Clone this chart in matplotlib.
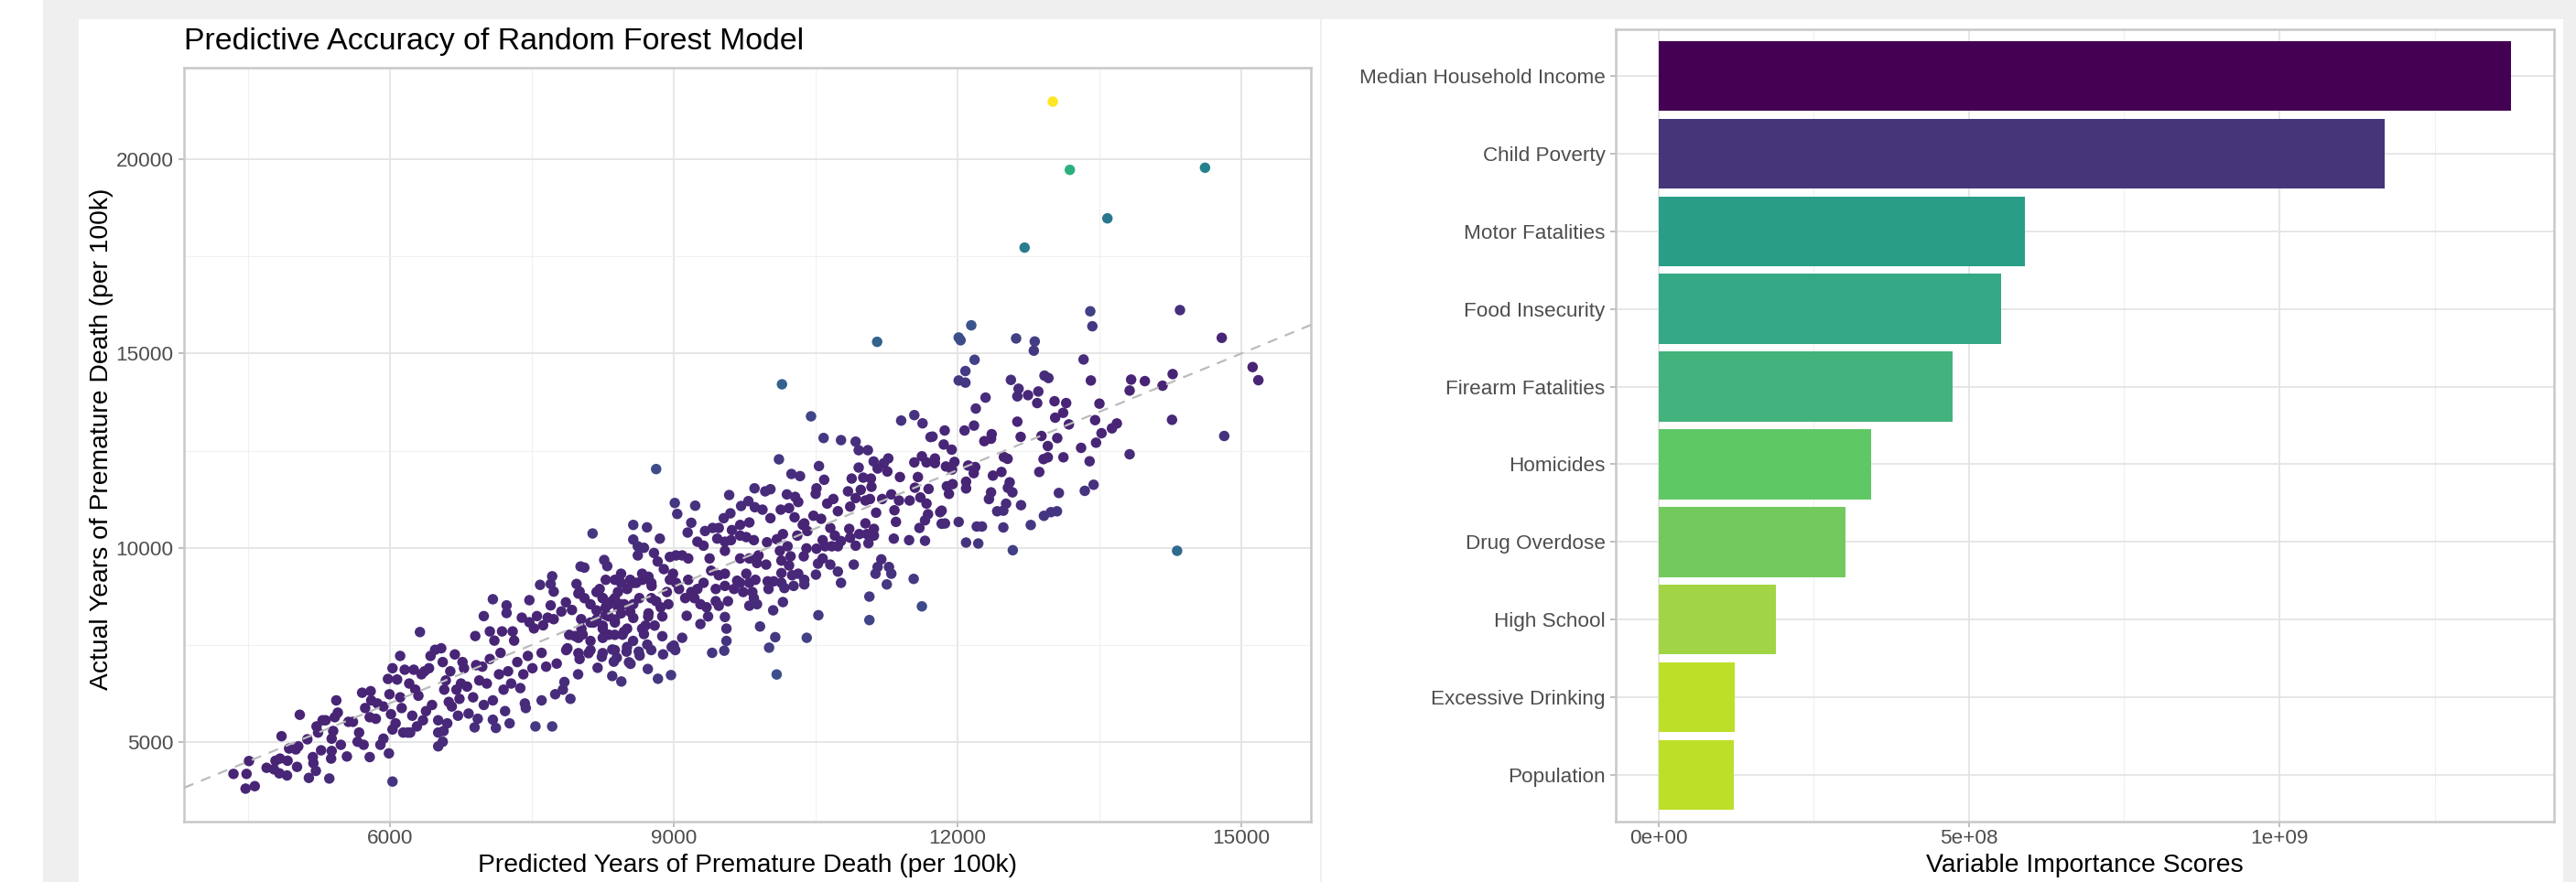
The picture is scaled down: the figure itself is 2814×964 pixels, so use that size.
import numpy as np
import matplotlib
matplotlib.use("Agg")
import matplotlib.pyplot as plt
from matplotlib.colors import ListedColormap, PowerNorm
from matplotlib.patches import Rectangle
from matplotlib.lines import Line2D
from matplotlib.ticker import MultipleLocator, FixedLocator

plt.rcParams['font.family'] = ['Liberation Sans', 'DejaVu Sans']

# ---------------- data ----------------
predicted = [
    4346, 4484, 4510, 4474, 4571, 4696, 4774, 4790, 4838, 4918,
    4831, 4912, 4854, 4934, 5005, 5031, 5018, 5047, 5127, 5143,
    5185, 5191, 5217, 5224, 5240, 5288, 5320, 5272, 5359, 5378,
    5384, 5384, 5400, 5417, 5433, 5449, 5481, 5545, 5561, 5609,
    5658, 5674, 5706, 5722, 5738, 5786, 5796, 5802, 5786, 5851,
    5867, 5899, 5931, 5931, 5989, 5995, 5979, 6027, 6027, 6011,
    6027, 6060, 6076, 6108, 6108, 6124, 6140, 6156, 6188, 6204,
    6214, 6236, 6252, 6268, 6285, 6301, 6317, 6333, 6349, 6365,
    6381, 6413, 6429, 6445, 6477, 6510, 6510, 6510, 6542, 6558,
    6558, 6567, 6574, 6590, 6606, 6622, 6638, 6654, 6686, 6703,
    6719, 6735, 6751, 6767, 6783, 6815, 6831, 6879, 6895, 6902,
    6911, 6928, 6944, 6976, 6992, 6992, 7024, 7056, 7056, 7088,
    7088, 7104, 7120, 7088, 7153, 7169, 7185, 7201, 7217, 7233,
    7233, 7249, 7265, 7281, 7297, 7313, 7346, 7378, 7394, 7410,
    7426, 7436, 7458, 7474, 7474, 7506, 7522, 7538, 7554, 7587,
    7603, 7603, 7619, 7651, 7667, 7699, 7699, 7715, 7715, 7731,
    7731, 7747, 7763, 7812, 7828, 7844, 7860, 7876, 7908, 7924,
    7956, 7972, 7989, 8005, 8005, 8015, 8021, 8037,
    10144, 10451, 8814, 8142, 10584, 10768, 10923, 10955, 11052, 10112,
    10535, 11113, 11268, 11220, 11155, 11258, 11404, 11543, 11630, 11714,
    11623, 11543, 11672, 10244, 10335, 10881, 11003, 11084, 10955, 11391,
    11581, 10590, 10509, 10500, 9854, 9967, 10022, 10842, 10977, 11090,
    11549, 11694, 9586, 9011, 9227, 9037, 9712, 9789, 9857, 9938,
    10022, 10196, 10283, 10316, 10131, 10219, 10277, 10380, 10477, 10622,
    10687, 10735, 10865, 10923, 11026, 11074, 11139, 11203, 11300, 11381,
    11333, 11494, 11607, 11672, 11688, 11349, 11656, 11026, 11116, 10855,
    10655, 10558, 9599, 9528, 9185, 8572, 8717, 9147, 9331, 9411,
    9476, 9615, 9702, 9799, 8572, 8853, 8620, 8685, 9250, 9315,
    9460, 9541, 9605, 9702, 9767, 9847, 9986, 10090, 10154, 10203,
    10122, 10306, 10364, 10412, 10574, 10703, 10768, 10865, 10923, 10961,
    11042, 11058, 11116, 11326, 11488, 11597, 11656, 10509, 10600, 10671,
    10735, 10403, 8620, 8791, 8959, 9024, 9089, 9153, 9379, 9541,
    9702, 9799, 9896, 9880, 9977, 10235, 10219, 10138, 10374, 10525,
    10574, 10655, 10903, 11194, 11155, 11275, 11300, 11133, 11536, 11252,
    11623, 11068, 11068, 10529, 10735, 10768, 10503, 10316, 10380, 10251,
    10138, 10138, 10057, 9993, 10170, 10267, 10380, 9863, 9799, 9767,
    9670, 9541, 9476, 9395, 9315, 9250, 9185, 9153, 9024, 9056,
    9121, 9218, 9282, 9347, 9444, 9444, 9541, 9573, 9476, 9637,
    9702, 9734, 9831, 9847, 9799, 9880, 10002, 10154, 10051, 9541,
    9557, 9282, 9363, 9137, 9912, 10073, 10406, 9089, 8992, 8959,
    8895, 8830, 8927, 8943, 8862, 8814, 8879, 8798, 8879, 8701,
    8685, 8733, 8766, 8733, 8669, 8604, 8540, 8507, 8443, 8443,
    8378, 8410, 8346, 8281, 8265, 8297, 8217, 8249, 8281, 8314,
    8378, 8459, 8184, 8120, 8572, 8636, 8572, 8540, 8475, 8410,
    8443, 8507, 8314, 8249, 8055,
    13187, 14616, 13584, 12709, 12145, 12012, 12032, 12619, 12816, 12806,
    13403, 13425, 14351, 14793, 12180, 13332, 15119, 15180, 12083, 12012,
    12083, 12564, 12919, 12961, 13409, 13835, 13980, 14167, 14274, 13819,
    12645, 12632, 12745, 12854, 12842, 12296, 12193, 13025, 13148, 13500,
    13116, 13032, 13177, 13454, 13684, 13632, 13522, 14267, 14819, 12632,
    12174, 12074, 11864, 11854, 11938, 11735, 12361, 12354, 12283, 12667,
    12887, 13054, 12954, 13306, 13464, 13819, 13119, 12954, 12909, 13396,
    12490, 12529, 11761, 11761, 11877, 11967, 11941, 12112, 12187, 12171,
    12464, 12374, 12864, 11887, 11948, 11909, 12090, 12090, 12551, 12532,
    12580, 12354, 12332, 12513, 12671, 13071, 13345, 13438, 12419, 12484,
    11832, 11816, 11832, 11867, 12012, 12203, 12258, 12484, 12774, 12913,
    12987, 13051,
    13007, 14321, 12090, 12219, 12584, 11150,
    9557, 9406, 9534, 10008, 10088, 8971, 8833, 8726, 8446, 8350,
    8195, 8527, 8543, 8398, 8366, 8630, 8640, 8501, 8240, 8099,
    8350, 8762, 8887, 9016, 8978, 9000, 8720,
    7992, 8056, 8120, 8184, 8249, 8313, 8377, 8441, 8184, 8281,
    8377, 8152, 8249, 8024, 7895, 7992, 8120, 8249, 8377, 8473,
    7863, 7992, 8120, 8249, 8377, 8506, 8570, 8666, 8730, 8763,
    8570, 8666, 8763,
]

actual = [
    4180, 4180, 4511, 3801, 3864, 4337, 4298, 4519, 4574, 4519,
    4195, 4140, 5150, 4834, 4810, 4889, 4361, 5702, 5071, 4077,
    4613, 4456, 4258, 5402, 5244, 5560, 5560, 4787, 4061, 4574,
    4771, 5087, 5284, 5639, 6072, 5757, 4929, 4629, 5520, 5520,
    5008, 5244, 6269, 4929, 5875, 4613, 6309, 6072, 5639, 5599,
    5993, 4929, 5087, 5915, 4708, 6230, 6624, 6900, 3983, 5717,
    5323, 5481, 6609, 7216, 6151, 5875, 5244, 6861, 5244, 6506,
    5244, 5678, 6861, 6348, 5402, 6191, 7831, 6743, 5560, 6821,
    5796, 6900, 7216, 5954, 7374, 5560, 5244, 4889, 7413, 5008,
    7058, 5284, 6348, 6585, 5481, 6032, 6821, 5915, 7255, 6348,
    5678, 6112, 6506, 7058, 6900, 6427, 5733, 6151, 5378, 7728,
    6979, 5599, 6585, 6940, 5954, 8241, 6506, 7137, 7847, 8675,
    6072, 7610, 5363, 5575, 6743, 7295, 7847, 6348, 5796, 8320,
    8517, 6821, 5481, 6506, 7847, 7610, 7058, 6388, 8201, 6743,
    5993, 5875, 7216, 8651, 8083, 6900, 7925, 5402, 8241, 9045,
    7295, 6072, 8004, 6940, 8201, 8517, 9069, 5402, 9266, 8872,
    8162, 6230, 7019, 8359, 6348, 6545, 8596, 7413, 6112, 8399,
    7728, 9069, 6743, 8872, 7137, 9518, 8162, 7768,
    14207, 13383, 12025, 10368, 12825, 12770, 12731, 12511, 12511, 12276,
    12103, 12221, 12299, 12174, 12040, 11962, 13273, 13414, 13202, 12849,
    12354, 12197, 12197, 11899, 11844, 11781, 11805, 11781, 12064, 11820,
    11820, 11750, 11530, 11389, 11530, 11452, 11507, 11452, 11491, 11569,
    11546, 11514, 11357, 11153, 11083, 10871, 11075, 11200, 11043, 10981,
    10761, 11373, 11310, 11177, 10981, 11020, 10784, 10627, 10824, 11137,
    11255, 10941, 11059, 11279, 11216, 11255, 10902, 11255, 11373, 11216,
    10965, 11216, 11295, 11137, 10863, 10666, 10706, 10627, 10486, 10486,
    10510, 10745, 10886, 10761, 10643, 10588, 10525, 10392, 10431, 10510,
    10510, 10455, 10588, 10651, 10211, 10235, 10038, 9999, 10156, 10054,
    10235, 10156, 10196, 10313, 10274, 10196, 10141, 10219, 10352, 10038,
    9921, 10313, 10588, 10431, 10196, 10313, 10172, 10258, 10054, 10352,
    10352, 10117, 10313, 10235, 10196, 10510, 10180, 9976, 10038, 10038,
    10038, 9984, 9803, 9866, 9764, 9803, 9803, 9725, 9725, 9921,
    9725, 9725, 9803, 9607, 9567, 9780, 9544, 9670, 9780, 9591,
    9725, 9567, 9567, 9701, 9505, 9505, 9332, 9332, 9199, 9057,
    8492, 8743, 8139, 8264, 9387, 9097, 9309, 9332, 9175, 9293,
    9348, 9097, 9136, 9136, 8963, 9018, 9057, 9175, 9097, 9332,
    9152, 9332, 9293, 9410, 9097, 8939, 8861, 9175, 9097, 8939,
    8704, 8704, 8547, 8469, 8939, 8625, 9018, 8625, 8508, 8939,
    9097, 8861, 8861, 8704, 8508, 8547, 8939, 8602, 8390, 8218,
    7919, 8037, 8233, 8249, 7974, 7699, 7683, 7683, 9332, 9175,
    9450, 9646, 8861, 8547, 8469, 8625, 8233, 7997, 7723, 7997,
    7778, 8312, 9018, 9254, 9175, 9097, 9175, 8939, 9332, 9097,
    9175, 8861, 8625, 9175, 9685, 9528, 8939, 8704, 8469, 8233,
    8076, 7762, 8155, 8076, 8194, 8704, 8547, 8351, 8547, 8469,
    8312, 7919, 7762, 7919, 9489,
    19726, 19781, 18478, 17725, 15725, 15411, 15340, 15387, 15309, 15073,
    16086, 15701, 16117, 15403, 14838, 14846, 14650, 14313, 14548, 14305,
    14250, 14320, 14430, 14368, 14305, 14328, 14289, 14171, 14470, 14046,
    14093, 13897, 13928, 14022, 13724, 13865, 13583, 13771, 13724, 13709,
    13473, 13348, 13175, 13285, 13199, 13073, 12948, 13293, 12877, 13245,
    13144, 13018, 13018, 12657, 12524, 12861, 12924, 12806, 12744, 12854,
    12877, 12822, 12618, 12571, 12704, 12406, 12328, 12328, 12281, 12226,
    12336, 12289, 12297, 12179, 12092, 12210, 12014, 12116, 12077, 11920,
    11951, 11857, 11951, 11583, 11638, 11387, 11700, 11527, 11685, 11543,
    11426, 11426, 11253, 11135, 11096, 11410, 11465, 11622, 10939, 10955,
    10955, 10916, 10618, 10626, 10665, 10547, 10547, 10523, 10586, 10822,
    10916, 10939,
    21483, 9922, 10134, 10110, 9937, 15300,
    7602, 7296, 7351, 7429, 6739, 6723, 6629, 6880, 6558, 6699,
    6911, 7053, 7013, 7170, 7068, 7327, 7225, 7327, 7194, 7288,
    7382, 7367, 7257, 7367, 7445, 7484, 7508,
    8821, 8703, 8545, 8860, 8703, 8545, 8703, 8545, 8388, 8270,
    8152, 8074, 7995, 7917, 7759, 7681, 7602, 7681, 7759, 7838,
    7366, 7288, 7366, 7288, 7366, 7445, 7602, 7917, 8231, 8703,
    9096, 9332, 9096,
]

variables = [
    "Population", "Excessive Drinking", "High School", "Drug Overdose",
    "Homicides", "Firearm Fatalities", "Food Insecurity", "Motor Fatalities",
    "Child Poverty", "Median Household Income",
]
importance = [
    0.122e9, 0.123e9, 0.190e9, 0.302e9, 0.343e9,
    0.4735e9, 0.552e9, 0.590e9, 1.169e9, 1.3735e9,
]
bar_colors = [
    "#bddf28", "#bddf28", "#a2d545", "#74c95e", "#5ec865",
    "#44b27c", "#35a886", "#2a9d87", "#463579", "#440154",
]
imp_ticks = [0, 5e8, 1e9]
imp_tick_labels = ["0e+00", "5e+08", "1e+09"]

# ---------------- figure ----------------
W, H = 2814, 964
DPI = 200
fig = plt.figure(figsize=(W / DPI, H / DPI), dpi=DPI, facecolor="white")


def fx(px):
    return px / W


def fy(py):
    return 1 - py / H


bg = "#efefef"
fig.patches.append(Rectangle((fx(47), 0), fx(86) - fx(47), 1, transform=fig.transFigure,
                             facecolor=bg, edgecolor="none", zorder=0))
fig.patches.append(Rectangle((fx(47), fy(21)), 1 - fx(47), 21 / H, transform=fig.transFigure,
                             facecolor=bg, edgecolor="none", zorder=0))
fig.patches.append(Rectangle((fx(2800), 0), 1 - fx(2800), 1, transform=fig.transFigure,
                             facecolor=bg, edgecolor="none", zorder=0))
fig.lines.append(Line2D([fx(1443), fx(1443)], [0, fy(21)], transform=fig.transFigure,
                        color="#ececec", lw=0.6, zorder=0))

ax1 = fig.add_axes([fx(201), fy(898), fx(1432) - fx(201), (898 - 74) / H])
ax2 = fig.add_axes([fx(1765), fy(898), fx(2790) - fx(1765), (898 - 32) / H])

TICK_FS = 8.1
AXT_FS = 10.2
TITLE_FS = 12.2


def style(ax):
    ax.set_facecolor("white")
    for s in ax.spines.values():
        s.set_color("#c8c8c8")
        s.set_linewidth(0.9)
    ax.tick_params(which="major", length=2.3, width=0.6, color="#b3b3b3",
                   labelcolor="#4d4d4d", labelsize=TICK_FS)
    ax.tick_params(which="minor", length=0)
    ax.tick_params(axis="x", pad=0.6)
    ax.tick_params(axis="y", pad=1.8)
    ax.grid(which="major", color="#e4e4e4", lw=0.65)
    ax.grid(which="minor", color="#f0f0f0", lw=0.4)
    ax.set_axisbelow(True)


# ---- scatter ----
style(ax1)
pred = np.array(predicted, dtype=float)
act = np.array(actual, dtype=float)
abs_res = np.abs(act - pred)
cmap = ListedColormap(plt.cm.viridis(np.linspace(0.1, 1.0, 256)))
norm = PowerNorm(gamma=2.0, vmin=0, vmax=abs_res.max())
ax1.scatter(pred, act, c=abs_res, cmap=cmap, norm=norm, s=17, linewidths=0, zorder=3)
ax1.axline((0, 0), slope=1, color="#bbbbbb", lw=0.8, ls=(0, (5, 4)), zorder=4)
ax1.set_xlim(3823, 15735)
ax1.set_ylim(2952, 22355)
ax1.xaxis.set_major_locator(MultipleLocator(3000))
ax1.xaxis.set_minor_locator(MultipleLocator(1500))
ax1.yaxis.set_major_locator(MultipleLocator(5000))
ax1.yaxis.set_minor_locator(MultipleLocator(2500))

fig.text(fx(201), fy(54), "Predictive Accuracy of Random Forest Model",
         fontsize=TITLE_FS, color="black", ha="left", va="baseline")
fig.text(fx(816), fy(953), "Predicted Years of Premature Death (per 100k)",
         fontsize=AXT_FS, color="black", ha="center", va="baseline")
fig.text(fx(111), fy(480), "Actual Years of Premature Death (per 100k)",
         fontsize=AXT_FS, color="black", ha="center", va="center", rotation=90)

# ---- bars ----
style(ax2)
ypos = np.arange(1, len(variables) + 1)
ax2.barh(ypos, importance, height=0.9, color=bar_colors, zorder=3)
ax2.set_ylim(0.4, len(variables) + 0.6)
ax2.set_xlim(-0.05 * max(importance), 1.05 * max(importance))
ax2.set_yticks(ypos)
ax2.set_yticklabels(variables)
ax2.xaxis.set_major_locator(FixedLocator(imp_ticks))
ax2.set_xticklabels(imp_tick_labels)
ax2.xaxis.set_minor_locator(FixedLocator([2.5e8, 7.5e8, 1.25e9]))
ax2.yaxis.grid(which="minor", visible=False)

fig.text(fx(2277), fy(953), "Variable Importance Scores",
         fontsize=AXT_FS, color="black", ha="center", va="baseline")

fig.savefig("out.png", dpi=DPI, facecolor=fig.get_facecolor())
